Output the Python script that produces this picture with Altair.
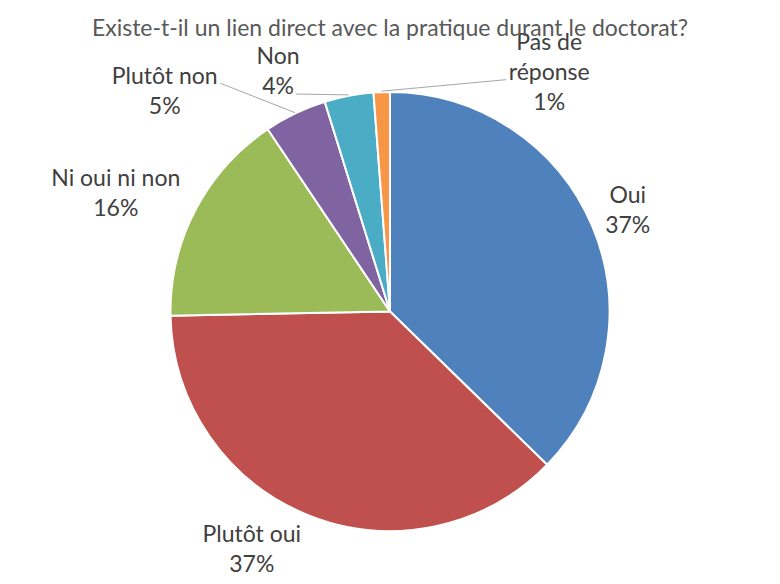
import altair as alt
import pandas as pd

# ---- data ----
categories = ["Oui", "Plutôt oui", "Ni oui ni non", "Plutôt non", "Non", "Pas de réponse"]
values = [37.3, 37.4, 15.9, 4.6, 3.6, 1.2]
colors = ["#4F81BD", "#C0504D", "#9BBB59", "#8064A2", "#4BACC6", "#F79646"]
title_text = "Existe-t-il un lien direct avec la pratique durant le doctorat?"

total = sum(values)
wrap = {"Pas de réponse": "Pas de\nréponse"}
labels = [f"{wrap.get(c, c)}\n{round(v / total * 100)}%" for c, v in zip(categories, values)]

df = pd.DataFrame({
    "category": categories,
    "value": values,
    "order": list(range(len(categories))),
    "label": labels,
})

# ---- layout ----
PAD_TOP = 40
W, H = 764, 568 - PAD_TOP
CX, CY = 382, 311.5 - 8 - PAD_TOP
R = 219.5
FONT = "Lato"
FS = 23
LH = 30

# label placement: radius along mid-angle, then pixel nudge (block centre)
label_layout = {
    "Oui": (258, 0, 0),
    "Plutôt oui": (256, -44, 0),
    "Ni oui ni non": (298, -10, 20),
    "Plutôt non": (295, -98, 47),
    "Non": (256, -64, 12),
    "Pas de réponse": (233, 168, -6),
}
# leader line end, relative to the label centre
leaders = {
    "Plutôt non": (56, -9),
    "Non": (18, 22),
    "Pas de réponse": (-43, 7),
}

pie = alt.Chart(df).mark_arc(outerRadius=R, stroke="white", strokeWidth=2).encode(
    theta=alt.Theta("value:Q", stack=True),
    color=alt.Color("category:N", scale=alt.Scale(domain=categories, range=colors), legend=None),
    order=alt.Order("order:Q"),
    x=alt.value(CX),
    y=alt.value(CY),
)

base = (
    alt.Chart(df)
    .transform_joinaggregate(total="sum(value)")
    .transform_window(cum="sum(value)", sort=[alt.SortField("order", order="ascending")])
    .transform_calculate(mid="(datum.cum - datum.value / 2) / datum.total * 2 * PI")
)

layers = [pie]
for cat, lab in zip(categories, labels):
    r, dx, dy = label_layout[cat]
    nlines = lab.count("\n") + 1
    layers.append(
        base.transform_filter(alt.datum.category == cat)
        .mark_text(radius=r, dx=dx, dy=dy - (nlines - 1) * LH / 2, font=FONT, fontSize=FS,
                   color="#404040", lineBreak="\n", lineHeight=LH, align="center", baseline="middle")
        .encode(theta=alt.Theta("mid:Q", scale=None), x=alt.value(CX), y=alt.value(CY), text="label:N")
    )
    if cat in leaders:
        ex, ey = leaders[cat]
        layers.append(
            base.transform_filter(alt.datum.category == cat)
            .transform_calculate(
                sx=f"{CX} + {R + 1} * sin(datum.mid)",
                sy=f"{CY} - {R + 1} * cos(datum.mid)",
                ex=f"{CX} + {r} * sin(datum.mid) + {dx + ex}",
                ey=f"{CY} - {r} * cos(datum.mid) + {dy + ey}",
            )
            .mark_rule(color="#A6A6A6", strokeWidth=1)
            .encode(
                x=alt.X("sx:Q", scale=None, axis=None),
                y=alt.Y("sy:Q", scale=None, axis=None),
                x2="ex:Q",
                y2="ey:Q",
            )
        )

chart = (
    alt.layer(*layers)
    .properties(
        width=W,
        height=H,
        autosize=alt.AutoSizeParams(type="none"),
        padding={"top": PAD_TOP, "left": 0, "right": 0, "bottom": 0},
        title=alt.TitleParams(title_text, font=FONT, fontSize=FS, fontWeight="normal",
                              color="#595959", anchor="middle", frame="group", offset=-9),
    )
    .configure(background="white")
    .configure_view(stroke=None, strokeWidth=0)
)

chart.save("out.html", embed_options={"renderer": "svg", "actions": False})
